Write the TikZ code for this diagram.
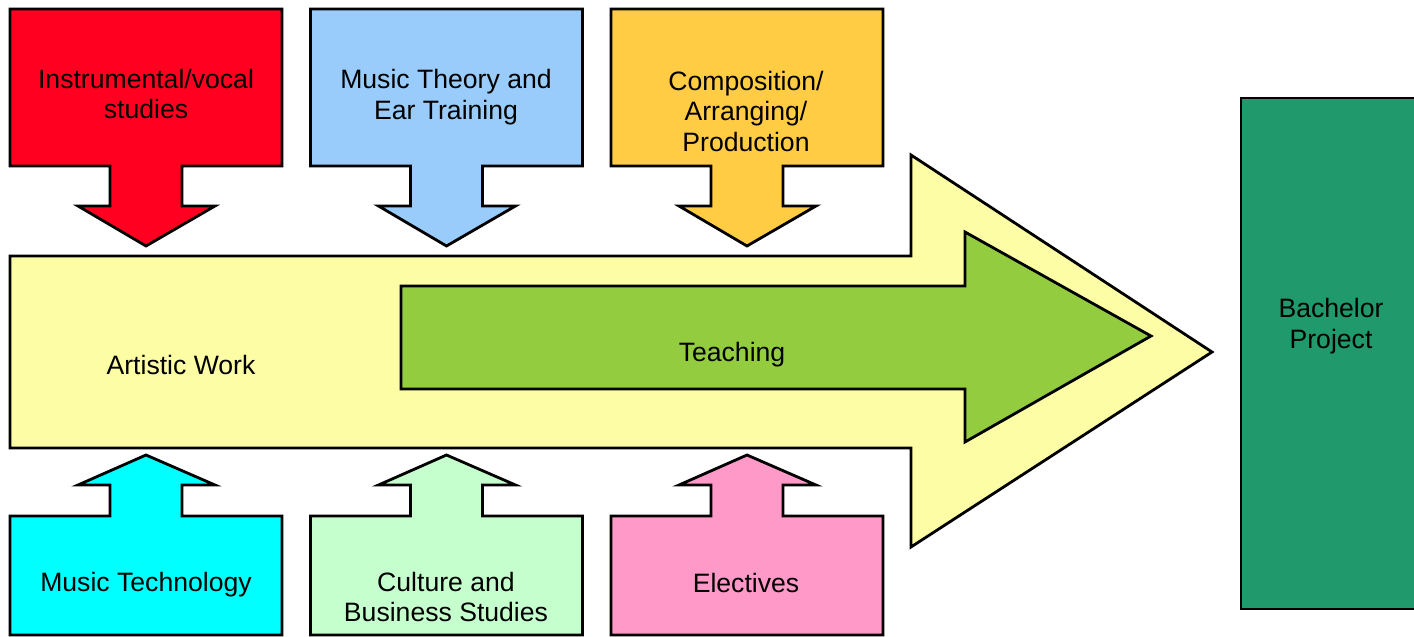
\documentclass[tikz,border=0pt]{standalone}
\usepackage{fontspec}
\setmainfont{Liberation Sans}
\definecolor{cRed}{HTML}{FF0020}
\definecolor{cBlue}{HTML}{99CCFA}
\definecolor{cOrange}{HTML}{FFCC44}
\definecolor{cYellow}{HTML}{FCFDA4}
\definecolor{cGreen}{HTML}{94CC40}
\definecolor{cCyan}{HTML}{00FFFF}
\definecolor{cMint}{HTML}{C6FFCE}
\definecolor{cPink}{HTML}{FF99C8}
\definecolor{cDark}{HTML}{20996C}
\begin{document}
\begin{tikzpicture}[x=1pt,y=-1pt,
  blockshape/.style={draw=black, line width=2.8pt, line join=miter},
  lbl/.style={align=center, font=\fontsize{26.6}{30.5}\selectfont, inner sep=0pt, text=black}]
\useasboundingbox (0,0) rectangle (1414,637);

% big yellow arrow (Artistic Work)
\filldraw[blockshape, fill=cYellow]
  (10,256) -- (911,256) -- (911,155) -- (1212,352) -- (911,547) -- (911,448) -- (10,448) -- cycle;
% green arrow (Teaching)
\filldraw[blockshape, fill=cGreen]
  (401,286) -- (965,286) -- (965,232) -- (1151,336) -- (965,442) -- (965,389) -- (401,389) -- cycle;

% top callouts (pointing down)
\foreach \L/\col in {10/cRed, 310.5/cBlue, 611/cOrange} {
  \filldraw[blockshape, fill=\col]
    (\L,9) -- ({\L+272},9) -- ({\L+272},166) -- ({\L+172},166) -- ({\L+172},206)
    -- ({\L+205},206) -- ({\L+136},246) -- ({\L+68},206) -- ({\L+100},206)
    -- ({\L+100},166) -- (\L,166) -- cycle;
}
% bottom callouts (pointing up)
\foreach \L/\col in {10/cCyan, 310.5/cMint, 611/cPink} {
  \filldraw[blockshape, fill=\col]
    (\L,635) -- ({\L+272},635) -- ({\L+272},516) -- ({\L+172},516) -- ({\L+172},485)
    -- ({\L+205},485) -- ({\L+136},455) -- ({\L+68},485) -- ({\L+100},485)
    -- ({\L+100},516) -- (\L,516) -- cycle;
}

% Bachelor project box (runs past the right edge)
\fill[cDark] (1241,98) rectangle (1414,609);
\draw[blockshape] (1414,98) -- (1241,98) -- (1241,609) -- (1414,609);

% labels
\node[lbl] (instr) at (146,94) {Instrumental/vocal\\studies};
\node[lbl] (theory) at (446,97) {Music Theory and\\Ear Training};
\node[lbl] (comp) at (746,111) {Composition/\\Arranging/\\Production};
\node[lbl] (art) at (181,365) {Artistic Work};
\node[lbl] (teach) at (732,355) {Teaching};
\node[lbl] (tech) at (146,585) {Music Technology};
\node[lbl] (cult) at (446,597) {Culture and\\Business Studies};
\node[lbl] (elect) at (746,583) {Electives};
\node[lbl] (bach) at (1331,326) {Bachelor\\Project};
\end{tikzpicture}
\end{document}
